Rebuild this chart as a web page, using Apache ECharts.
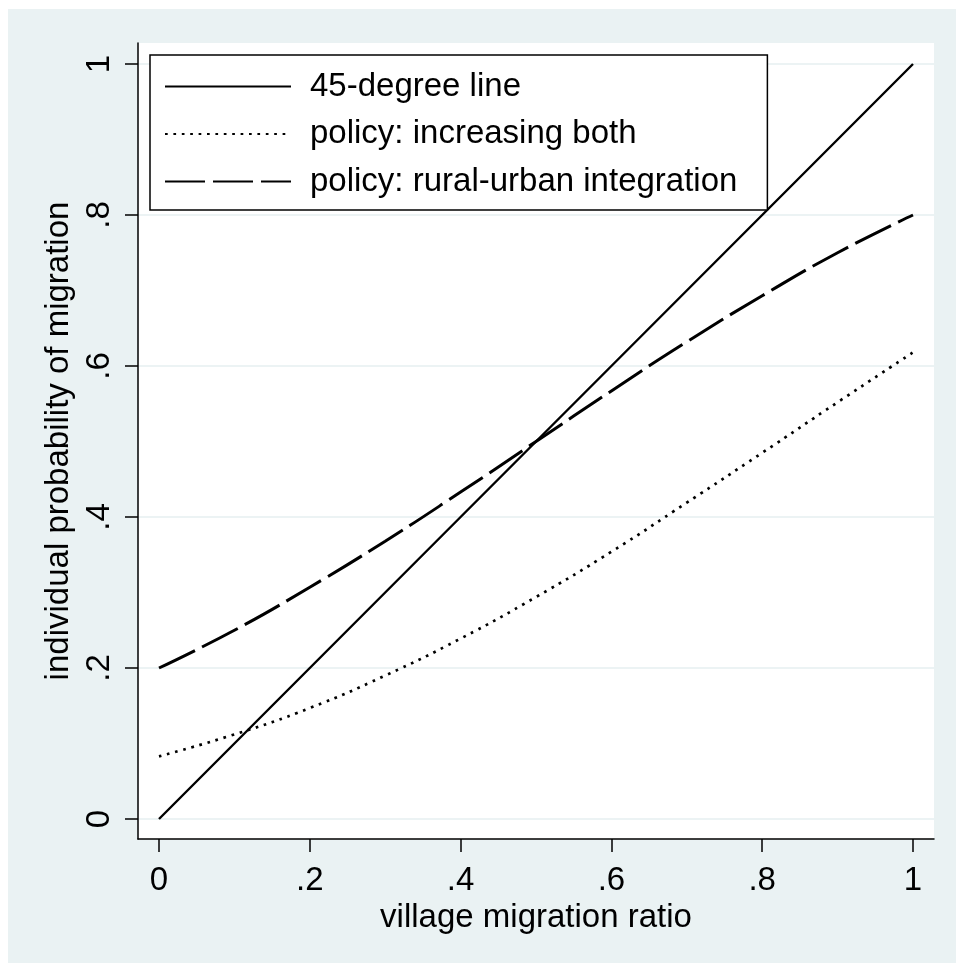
<!DOCTYPE html>
<html>
<head>
<meta charset="utf-8">
<script src="https://cdn.jsdelivr.net/npm/echarts@6/dist/echarts.min.js"></script>
<style>
  html, body { margin: 0; padding: 0; background: #ffffff; }
  #chart { position: absolute; left: 8px; top: 9px; width: 948px; height: 954px; }
</style>
</head>
<body>
<div id="chart"></div>
<script>
// ---- data ----
var xValues = [0, 0.1, 0.2, 0.3, 0.4, 0.5, 0.6, 0.7, 0.8, 0.9, 1.0];
var line45 = [0, 0.1, 0.2, 0.3, 0.4, 0.5, 0.6, 0.7, 0.8, 0.9, 1.0];
var increasingBoth = [0.083, 0.112, 0.147, 0.190, 0.239, 0.294, 0.354, 0.419, 0.485, 0.552, 0.618];
var ruralUrban = [0.200, 0.250, 0.307, 0.368, 0.433, 0.500, 0.567, 0.632, 0.693, 0.750, 0.800];
var seriesNames = ['45-degree line', 'policy: increasing both', 'policy: rural-urban integration'];
var xTicks = [0, 0.2, 0.4, 0.6, 0.8, 1];
var xTickLabels = ['0', '.2', '.4', '.6', '.8', '1'];
var yTicks = [0, 0.2, 0.4, 0.6, 0.8, 1];
var yTickLabels = ['0', '.2', '.4', '.6', '.8', '1'];
var xTitle = 'village migration ratio';
var yTitle = 'individual probability of migration';

function pairs(xs, ys) { return xs.map(function (x, i) { return [x, ys[i]]; }); }
function labelFor(ticks, labels) {
  return function (v) {
    for (var i = 0; i < ticks.length; i++) { if (Math.abs(ticks[i] - v) < 1e-9) return labels[i]; }
    return '';
  };
}

var FONT = "'Liberation Sans', Arial, Helvetica, sans-serif";
var chart = echarts.init(document.getElementById('chart'), null, { renderer: 'canvas' });
chart.setOption({
  animation: false,
  backgroundColor: '#eaf2f3',
  textStyle: { fontFamily: FONT, color: '#000' },
  grid: {
    left: 130, right: 22, top: 34, bottom: 124,
    show: true, backgroundColor: '#ffffff', borderWidth: 0,
    containLabel: false
  },
  legend: {
    orient: 'vertical',
    left: 142, top: 46,
    data: seriesNames,
    backgroundColor: '#ffffff',
    borderColor: '#000000', borderWidth: 1.5, borderRadius: 0,
    padding: [15, 30, 12, 14],
    itemWidth: 126, itemHeight: 14, itemGap: 14.5,
    itemStyle: { color: 'rgba(0,0,0,0)', borderColor: 'rgba(0,0,0,0)', borderWidth: 0, opacity: 0 },
    textStyle: { fontFamily: FONT, fontSize: 33, color: '#000', padding: [0, 0, 0, 14] },
    selectedMode: false
  },
  xAxis: {
    type: 'value',
    min: -0.02785, max: 1.02785,
    axisLine: { show: true, onZero: false, lineStyle: { color: '#000', width: 1.5 } },
    axisTick: { show: true, length: 13, lineStyle: { color: '#000', width: 1.5 }, customValues: xTicks },
    axisLabel: { show: true, fontFamily: FONT, fontSize: 33, color: '#000', margin: 25,
                 customValues: xTicks, formatter: labelFor(xTicks, xTickLabels) },
    splitLine: { show: false },
    name: xTitle, nameLocation: 'middle', nameGap: 55,
    nameTextStyle: { fontFamily: FONT, fontSize: 33, color: '#000' }
  },
  yAxis: {
    type: 'value',
    min: -0.0265, max: 1.0278,
    axisLine: { show: true, onZero: false, lineStyle: { color: '#000', width: 1.5 } },
    axisTick: { show: true, length: 13, lineStyle: { color: '#000', width: 1.5 }, customValues: yTicks },
    axisLabel: { show: true, fontFamily: FONT, fontSize: 33, color: '#000', margin: 22, rotate: 90,
                 customValues: yTicks, formatter: labelFor(yTicks, yTickLabels) },
    splitLine: { show: true, lineStyle: { color: '#e6eff1', width: 1.5 } },
    name: yTitle, nameLocation: 'middle', nameGap: 55,
    nameTextStyle: { fontFamily: FONT, fontSize: 33, color: '#000' }
  },
  series: [
    {
      name: seriesNames[0], type: 'line', symbol: 'none', smooth: false,
      data: pairs(xValues, line45),
      lineStyle: { color: '#000', width: 2.4, type: 'solid' },
      itemStyle: { color: '#000' }
    },
    {
      name: seriesNames[1], type: 'line', symbol: 'none', smooth: true,
      data: pairs(xValues, increasingBoth),
      lineStyle: { color: '#000', width: 2.7, type: [2.7, 5.7] },
      itemStyle: { color: '#000' }
    },
    {
      name: seriesNames[2], type: 'line', symbol: 'none', smooth: true,
      data: pairs(xValues, ruralUrban),
      lineStyle: { color: '#000', width: 3, type: [40, 8] },
      itemStyle: { color: '#000' }
    }
  ]
});
</script>
</body>
</html>
